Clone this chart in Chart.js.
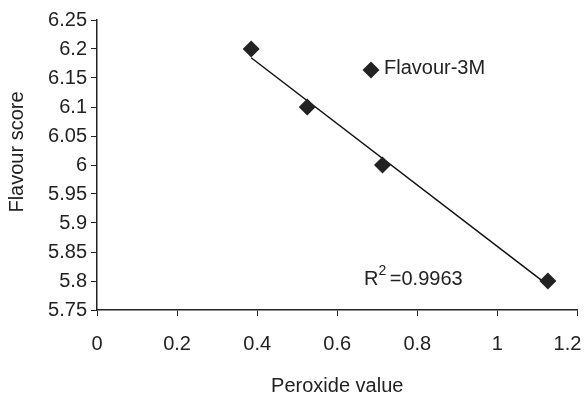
<!DOCTYPE html>
<html>
<head>
<meta charset="utf-8">
<script src="https://cdn.jsdelivr.net/npm/chart.js@4"></script>
<style>
  html, body { margin: 0; padding: 0; background: #fff; }
  #wrap { width: 586px; height: 394px; }
</style>
</head>
<body>
<div id="wrap"><canvas id="flavourChart" width="586" height="394"></canvas></div>
<script>
// values
const peroxideValue = [0.385, 0.525, 0.713, 1.126];
const flavourScore = [6.2, 6.1, 6.0, 5.8];
const seriesName = 'Flavour-3M';
const rSquaredLabel = '=0.9963';
const xTitle = 'Peroxide value';
const yTitle = 'Flavour score';

const ink = '#222';
const fontFamily = '"Liberation Sans", Arial, sans-serif';
const fontSize = 20;

// linear trendline through the points (least squares), like the spreadsheet one
const n = peroxideValue.length;
const mx = peroxideValue.reduce((a, b) => a + b, 0) / n;
const my = flavourScore.reduce((a, b) => a + b, 0) / n;
let sxy = 0, sxx = 0;
for (let i = 0; i < n; i++) {
    sxy += (peroxideValue[i] - mx) * (flavourScore[i] - my);
    sxx += (peroxideValue[i] - mx) ** 2;
}
const slope = sxy / sxx;
const intercept = my - slope * mx;
const xMin = Math.min(...peroxideValue);
const xMax = Math.max(...peroxideValue);
const trend = [
    { x: xMin, y: intercept + slope * xMin },
    { x: xMax, y: intercept + slope * xMax },
];

const points = peroxideValue.map((x, i) => ({ x: x, y: flavourScore[i] }));

// pull the last x label ("1.2") back inside the canvas, as in the original
const lastLabelShift = {
    id: 'lastLabelShift',
    beforeDraw(chart) {
        const xs = chart.scales.x;
        xs._labelItems = null;
        const items = xs.getLabelItems();
        if (items.length) {
            items[items.length - 1].options.translation[0] -= 10;
        }
    },
};

// legend, R² note and y title drawn by hand
const notes = {
    id: 'notes',
    afterDatasetsDraw(chart) {
        const { ctx, chartArea } = chart;
        ctx.save();
        ctx.fillStyle = ink;
        ctx.font = fontSize + 'px ' + fontFamily;
        ctx.textBaseline = 'middle';

        // y axis title
        ctx.save();
        ctx.translate(17, (chartArea.top + chartArea.bottom) / 2 - 13);
        ctx.rotate(-Math.PI / 2);
        ctx.textAlign = 'center';
        ctx.fillText(yTitle, 0, 0);
        ctx.restore();

        // legend
        const lx = chartArea.left + 274;
        const ly = chartArea.top + 50;
        ctx.beginPath();
        ctx.moveTo(lx, ly - 8.5);
        ctx.lineTo(lx + 8.5, ly);
        ctx.lineTo(lx, ly + 8.5);
        ctx.lineTo(lx - 8.5, ly);
        ctx.closePath();
        ctx.fill();
        ctx.textAlign = 'left';
        ctx.fillText(seriesName, lx + 13, ly - 2);

        // R squared
        const rx = chartArea.left + 267;
        const ry = chartArea.top + 259;
        ctx.fillText('R', rx, ry);
        const rw = ctx.measureText('R').width;
        ctx.font = '14px ' + fontFamily;
        ctx.fillText('2', rx + rw, ry - 8);
        const sw = ctx.measureText('2').width;
        ctx.font = fontSize + 'px ' + fontFamily;
        ctx.fillText(' ' + rSquaredLabel, rx + rw + sw - 2, ry);
        ctx.restore();
    },
};

const trimNum = (v) => String(+Number(v).toFixed(2));

new Chart(document.getElementById('flavourChart'), {
    type: 'scatter',
    data: {
        datasets: [
            {
                label: seriesName,
                data: points,
                pointStyle: 'rectRot',
                pointRadius: 8.5,
                pointHoverRadius: 8.5,
                backgroundColor: ink,
                borderColor: ink,
                borderWidth: 0,
                order: 1,
            },
            {
                label: 'Trend',
                type: 'line',
                data: trend,
                borderColor: '#111',
                borderWidth: 1.5,
                pointRadius: 0,
                fill: false,
                order: 2,
            },
        ],
    },
    options: {
        responsive: false,
        animation: false,
        layout: { padding: { top: 20, right: 8, left: 0, bottom: 0 } },
        plugins: {
            legend: { display: false },
            title: { display: false },
            tooltip: { enabled: false },
        },
        scales: {
            x: {
                type: 'linear',
                min: 0,
                max: 1.2,
                ticks: {
                    stepSize: 0.2,
                    color: ink,
                    padding: 16,
                    maxRotation: 0,
                    font: { family: fontFamily, size: fontSize },
                    callback: trimNum,
                },
                grid: { drawOnChartArea: false, drawTicks: true, tickLength: 6, color: ink },
                border: { color: ink, width: 1.5 },
                title: {
                    display: true,
                    text: xTitle,
                    color: ink,
                    font: { family: fontFamily, size: fontSize },
                    padding: { top: 8, bottom: -4 },
                },
                afterFit(scale) {
                    scale.height = 84;
                    scale.paddingLeft = 0;
                    scale.paddingRight = 0;
                },
            },
            y: {
                type: 'linear',
                min: 5.75,
                max: 6.25,
                ticks: {
                    stepSize: 0.05,
                    color: ink,
                    padding: 4,
                    font: { family: fontFamily, size: fontSize },
                    callback: trimNum,
                },
                grid: { drawOnChartArea: false, drawTicks: true, tickLength: 6, color: ink },
                border: { color: ink, width: 1.5 },
                title: { display: false },
                afterFit(scale) {
                    scale.width = 97;
                    scale.paddingTop = 0;
                    scale.paddingBottom = 0;
                },
            },
        },
    },
    plugins: [lastLabelShift, notes],
});
</script>
</body>
</html>
